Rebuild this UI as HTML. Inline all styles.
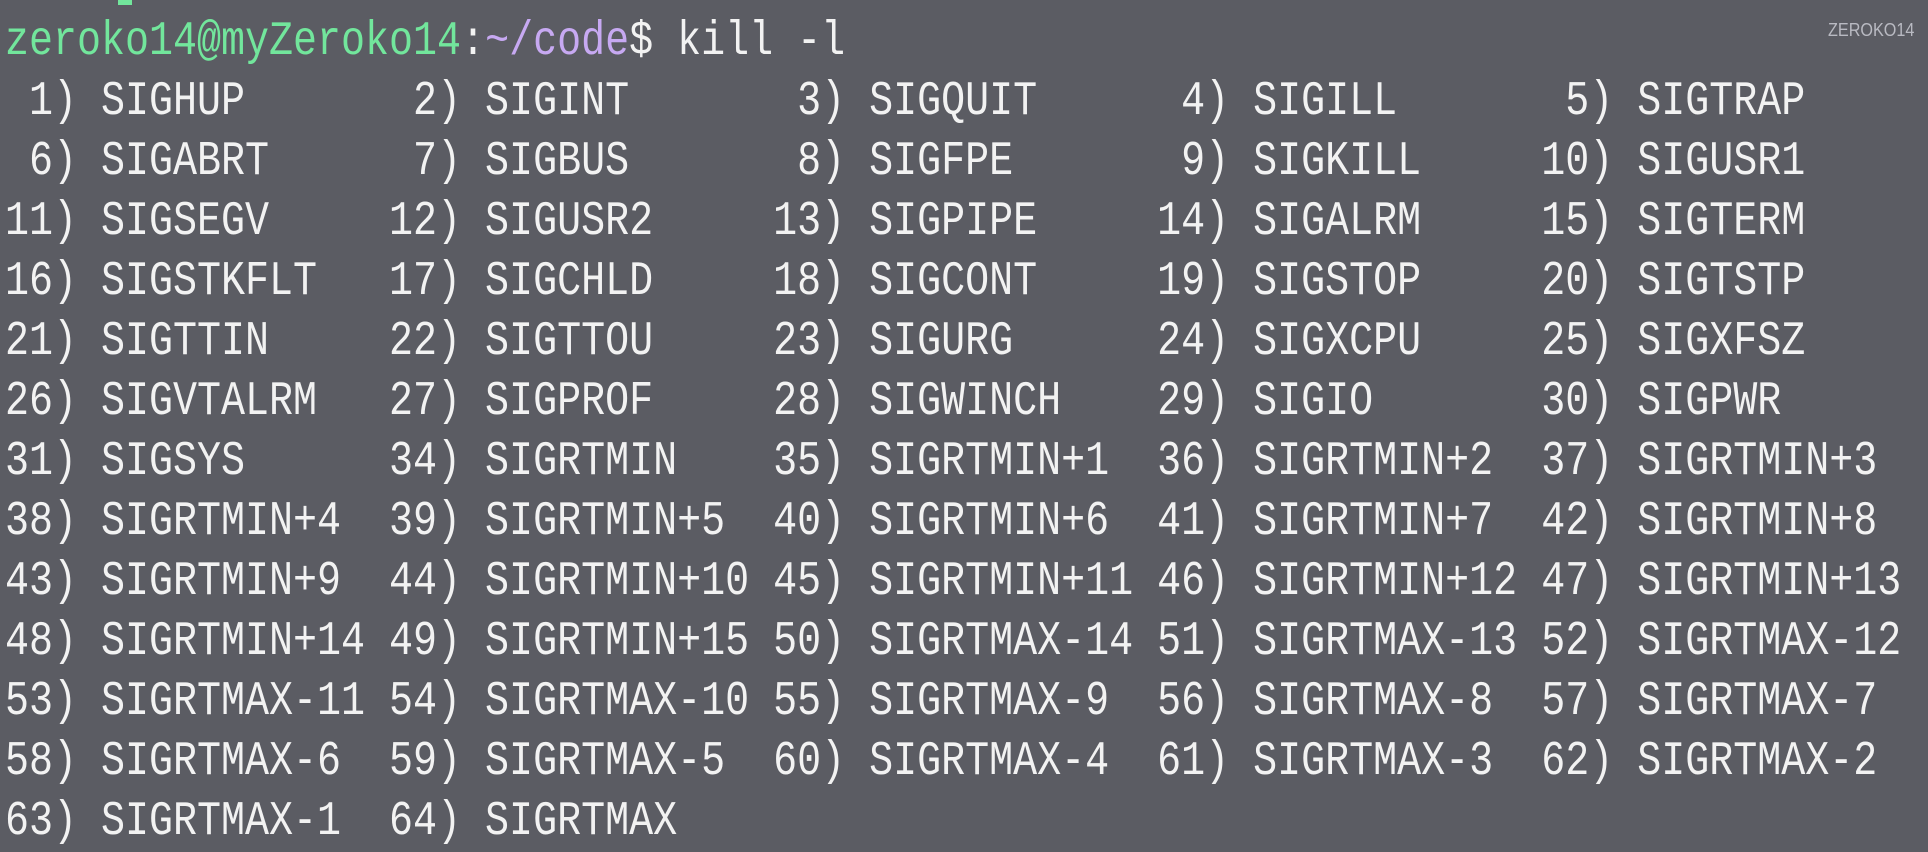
<!DOCTYPE html>
<html><head><meta charset="utf-8"><style>
html,body{margin:0;padding:0}
body{width:1928px;height:842px;background:#5b5c63;overflow:hidden;position:relative}
pre{position:absolute;left:5px;top:12px;margin:0;font-family:"Liberation Mono",monospace;font-size:48px;line-height:60px;color:#f2f2f2;transform:scaleX(0.8333);transform-origin:0 0;white-space:pre}
.g{color:#72e69c}.p{color:#c7a9f2}
.wm{position:absolute;left:1828px;top:20px;font-family:"Liberation Sans",sans-serif;font-size:18px;color:#b9bac2;transform:scaleX(0.9);transform-origin:0 0}
.frag{position:absolute;left:118px;top:0;width:14px;height:5px;background:#72e69c}
</style></head><body>
<div class="frag"></div>
<pre><span class="g">zeroko14@myZeroko14</span>:<span class="p">~/code</span>$ kill -l
 1) SIGHUP       2) SIGINT       3) SIGQUIT      4) SIGILL       5) SIGTRAP
 6) SIGABRT      7) SIGBUS       8) SIGFPE       9) SIGKILL     10) SIGUSR1
11) SIGSEGV     12) SIGUSR2     13) SIGPIPE     14) SIGALRM     15) SIGTERM
16) SIGSTKFLT   17) SIGCHLD     18) SIGCONT     19) SIGSTOP     20) SIGTSTP
21) SIGTTIN     22) SIGTTOU     23) SIGURG      24) SIGXCPU     25) SIGXFSZ
26) SIGVTALRM   27) SIGPROF     28) SIGWINCH    29) SIGIO       30) SIGPWR
31) SIGSYS      34) SIGRTMIN    35) SIGRTMIN+1  36) SIGRTMIN+2  37) SIGRTMIN+3
38) SIGRTMIN+4  39) SIGRTMIN+5  40) SIGRTMIN+6  41) SIGRTMIN+7  42) SIGRTMIN+8
43) SIGRTMIN+9  44) SIGRTMIN+10 45) SIGRTMIN+11 46) SIGRTMIN+12 47) SIGRTMIN+13
48) SIGRTMIN+14 49) SIGRTMIN+15 50) SIGRTMAX-14 51) SIGRTMAX-13 52) SIGRTMAX-12
53) SIGRTMAX-11 54) SIGRTMAX-10 55) SIGRTMAX-9  56) SIGRTMAX-8  57) SIGRTMAX-7
58) SIGRTMAX-6  59) SIGRTMAX-5  60) SIGRTMAX-4  61) SIGRTMAX-3  62) SIGRTMAX-2
63) SIGRTMAX-1  64) SIGRTMAX</pre>
<div class="wm">ZEROKO14</div>
</body></html>
